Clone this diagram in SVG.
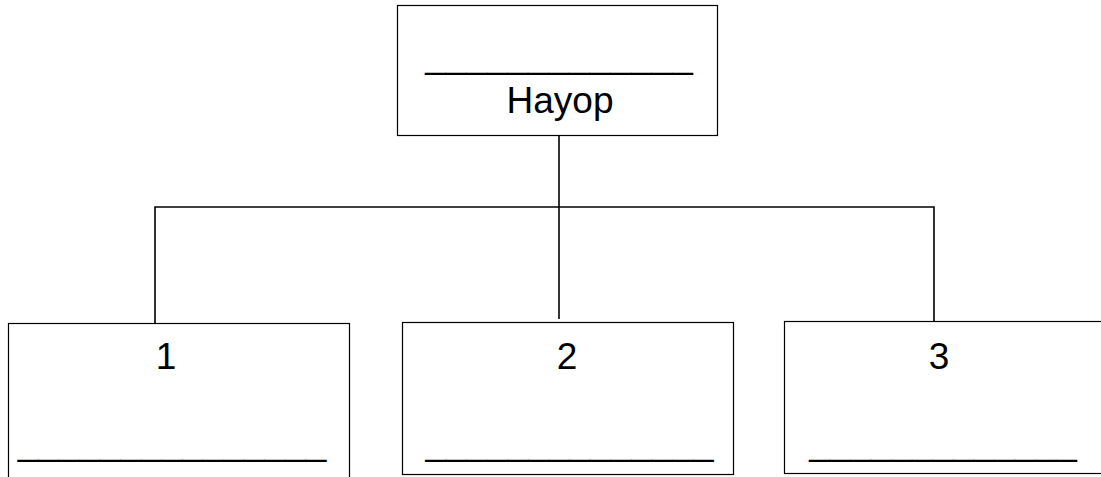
<svg xmlns="http://www.w3.org/2000/svg" width="1101" height="477" viewBox="0 0 1101 477">
<style>
.box{fill:#fff;stroke:#000;stroke-width:1.2}
.t{font-family:"Liberation Sans",Arial,sans-serif;font-size:37px;fill:#000;text-anchor:middle}
.c{fill:none;stroke:#000;stroke-width:1.6}
</style>
<rect width="1101" height="477" fill="#fff"/>
<g id="connectors">
<line class="c" x1="559" y1="135" x2="559" y2="319"/>
<polyline class="c" points="155,323 155,207 934,207 934,321"/>
</g>
<g id="node-top">
<rect class="box" x="397.5" y="5.5" width="320" height="130"/>
<text class="t" x="559" y="68">_____________</text>
<text class="t" x="560" y="113">Hayop</text>
</g>
<g id="node-1">
<rect class="box" x="8.5" y="323.5" width="341" height="170"/>
<text class="t" x="166" y="369">1</text>
<text class="t" x="172" y="455">_______________</text>
</g>
<g id="node-2">
<rect class="box" x="402.5" y="322.5" width="331" height="152"/>
<text class="t" x="567" y="369">2</text>
<text class="t" x="569.5" y="455">______________</text>
</g>
<g id="node-3">
<rect class="box" x="784.5" y="321.5" width="330" height="152"/>
<text class="t" x="939" y="369">3</text>
<text class="t" x="943" y="455">_____________</text>
</g>
</svg>
